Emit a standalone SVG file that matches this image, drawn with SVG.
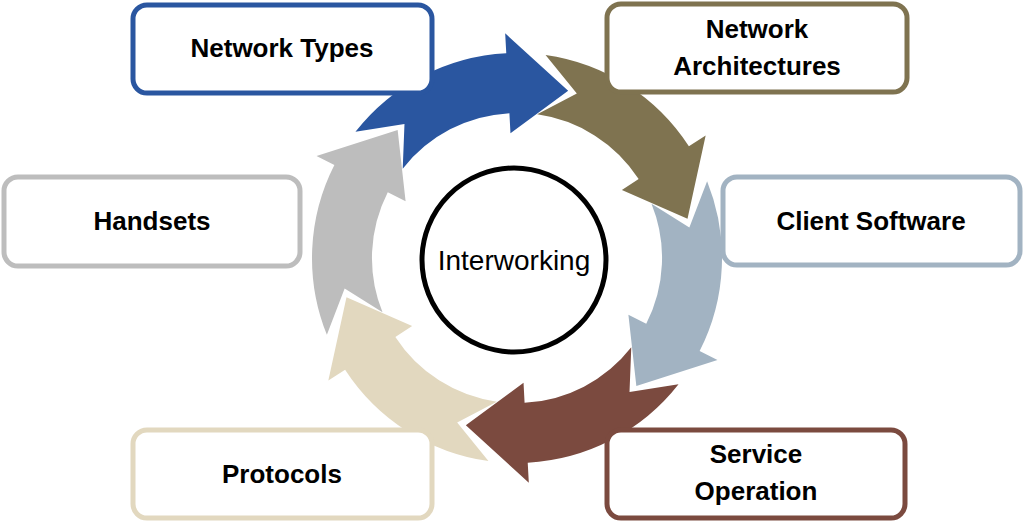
<svg xmlns="http://www.w3.org/2000/svg" width="1024" height="523" viewBox="0 0 1024 523">
<defs>
<style>
.box{fill:#fff;stroke-width:5}
.lbl{font-family:"Liberation Sans",Arial,sans-serif;font-weight:bold;font-size:26px;fill:#000;text-anchor:middle}
</style>
<path id="arr" d="M73.5,-191.4 L95.3,-146.8 L52.0,-135.4 A145,145 0 0 1 136.3,-49.6 L117.5,-42.75 L175,0 L211.4,-77 L192.6,-70.1 A205,205 0 0 0 73.5,-191.4 Z"/>
</defs>
<rect width="1024" height="523" fill="#fff"/>
<g id="connectors">
<use href="#arr" fill="#2A56A0" transform="translate(517,258) rotate(-73)"/>
<use href="#arr" fill="#7F7350" transform="translate(517,258) rotate(-13)"/>
<use href="#arr" fill="#A2B3C2" transform="translate(517,258) rotate(47)"/>
<use href="#arr" fill="#7B4A3F" transform="translate(517,258) rotate(107)"/>
<use href="#arr" fill="#E2D8BF" transform="translate(517,258) rotate(167)"/>
<use href="#arr" fill="#BDBDBD" transform="translate(517,258) rotate(227)"/>
</g>
<g id="center">
<circle cx="514" cy="260" r="92" fill="#fff" stroke="#000" stroke-width="5"/>
<text x="514" y="270" style="font-family:'Liberation Sans',Arial,sans-serif;font-size:28px;text-anchor:middle">Interworking</text>
</g>
<g id="n1"><rect class="box" x="133" y="5" width="299" height="88" rx="14" stroke="#2A56A0"/><text class="lbl" x="282" y="57">Network Types</text></g>
<g id="n2"><rect class="box" x="607" y="4" width="300" height="88" rx="14" stroke="#7F7350"/><text class="lbl" x="757" y="38">Network</text><text class="lbl" x="757" y="75">Architectures</text></g>
<g id="n3"><rect class="box" x="723" y="177" width="297" height="88" rx="14" stroke="#A2B3C2"/><text class="lbl" x="871" y="230">Client Software</text></g>
<g id="n4"><rect class="box" x="607" y="430" width="298" height="88" rx="14" stroke="#7B4A3F"/><text class="lbl" x="756" y="463">Service</text><text class="lbl" x="756" y="500">Operation</text></g>
<g id="n5"><rect class="box" x="133" y="430" width="299" height="88" rx="14" stroke="#E2D8BF"/><text class="lbl" x="282" y="483">Protocols</text></g>
<g id="n6"><rect class="box" x="4" y="177" width="296" height="89" rx="14" stroke="#BDBDBD"/><text class="lbl" x="152" y="230">Handsets</text></g>
</svg>
